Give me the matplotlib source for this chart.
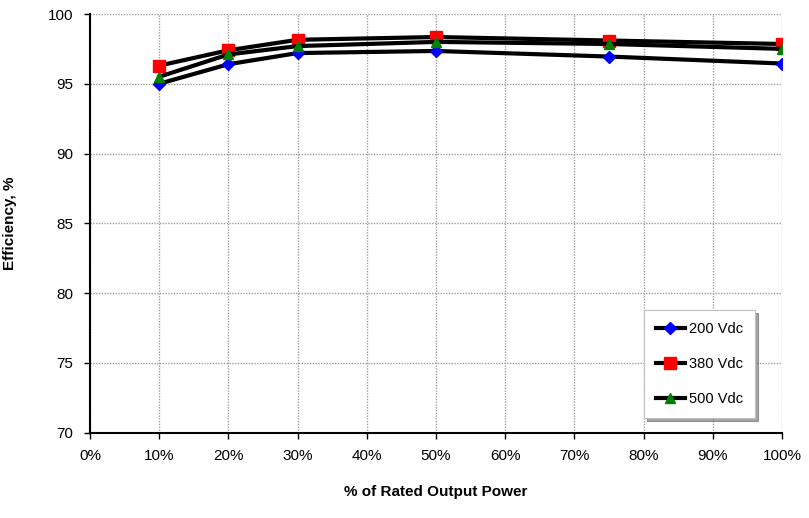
import matplotlib
matplotlib.use("Agg")
from matplotlib import pyplot as plt
from matplotlib.ticker import FuncFormatter

# % of rated output power
power = [10, 20, 30, 50, 75, 100]

# efficiency, %
eff_200 = [95.0, 96.4, 97.2, 97.35, 96.95, 96.45]
eff_380 = [96.3, 97.4, 98.15, 98.35, 98.1, 97.85]
eff_500 = [95.5, 97.1, 97.7, 98.0, 97.85, 97.5]

labels = ["200 Vdc", "380 Vdc", "500 Vdc"]

plt.rcParams['font.family'] = ['Liberation Sans', 'DejaVu Sans']

fig = plt.figure(figsize=(8.09, 5.18), dpi=100)
ax = fig.add_axes([90 / 809, 1 - 432.5 / 518, 692 / 809, 418.5 / 518])

ax.plot(power, eff_200, color="black", lw=3, marker="D", ms=6,
        mfc="blue", mec="blue", label=labels[0], zorder=3)
ax.plot(power, eff_380, color="black", lw=3, marker="s", ms=8,
        mfc="red", mec="red", label=labels[1], zorder=3)
ax.plot(power, eff_500, color="black", lw=3, marker="^", ms=7,
        mfc="green", mec="green", label=labels[2], zorder=4)

ax.set_xlim(0, 100)
ax.set_ylim(70, 100)
ax.set_xticks(range(0, 101, 10))
ax.set_yticks(range(70, 101, 5))
ax.xaxis.set_major_formatter(FuncFormatter(lambda v, p: "%d%%" % v))
ax.tick_params(labelsize=11, length=4, width=1, colors="black", pad=8)

ax.grid(True, color="#a0a0a0", linestyle=(0, (1, 1)), linewidth=1)
ax.set_axisbelow(True)
for s in ["top", "right"]:
    ax.spines[s].set_visible(False)
for s in ["left", "bottom"]:
    ax.spines[s].set_linewidth(1.5)

ax.set_xlabel("% of Rated Output Power", fontsize=11, fontweight="bold", labelpad=16)
ax.set_ylabel("Efficiency, %", fontsize=11, fontweight="bold", labelpad=22)

leg = ax.legend(loc="lower right", bbox_to_anchor=(0.961, 0.035), borderaxespad=0,
                fontsize=10.5, frameon=True, fancybox=False, shadow=True,
                edgecolor="#c0c0c0", handlelength=2.0, labelspacing=1.45,
                borderpad=0.8, handletextpad=0.3)
leg.get_frame().set_linewidth(0.8)

plt.savefig("out.png", dpi=100)
